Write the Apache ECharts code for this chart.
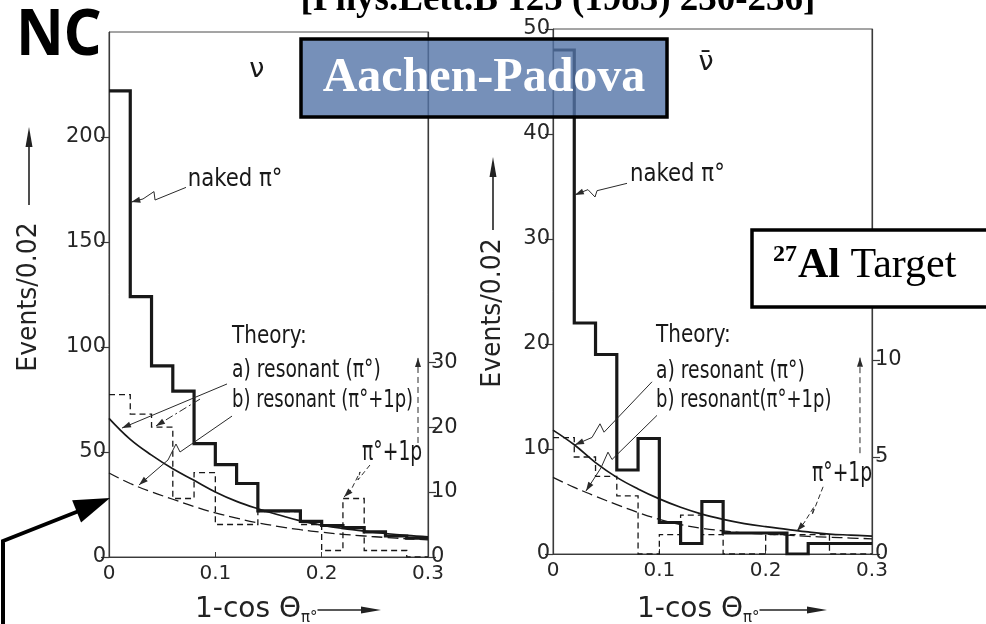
<!DOCTYPE html>
<html>
<head>
<meta charset="utf-8">
<script src="https://cdn.jsdelivr.net/npm/echarts@6/dist/echarts.min.js"></script>
<style>
  html, body { margin: 0; padding: 0; background: #fff; }
  #chart { width: 986px; height: 624px; }
</style>
</head>
<body>
<div id="chart"></div>
<script>
// 1 - cos(theta_pi0) bin edges, 0.02 wide
const binEdges = [0, 0.02, 0.04, 0.06, 0.08, 0.10, 0.12, 0.14, 0.16, 0.18, 0.20, 0.22, 0.24, 0.26, 0.28, 0.30];

// neutrino beam: events per bin
const nuNaked = [222, 124, 91, 79, 54, 44, 35, 22, 22, 17, 15, 14, 12, 10, 9];
const nuPi0p  = [25, 22, 20, 9, 13, 5, 5, 7, 7, 5, 1, 9, 1, 1, 0];

// antineutrino beam: events per bin
const nubarNaked = [48, 22, 19, 8, 11, 3, 1, 5, 2, 2, 2, 0, 1, 1, 1];
const nubarPi0p  = [6, 5, 4, 3, 0, 1, 2, 1, 0, 0, 1, 1, 1, 0, 0];

// theory curves sampled on the same grid
const theoryX = [0, 0.02, 0.04, 0.06, 0.08, 0.10, 0.12, 0.14, 0.16, 0.18, 0.20, 0.22, 0.24, 0.26, 0.28, 0.30];
const nuTheoryA = [66, 56, 48.5, 42, 36.5, 31, 26.5, 23, 20, 17.2, 15.2, 13.6, 12.3, 11.2, 10.3, 9.6];
const nuTheoryB = [40, 35, 31, 27.5, 24, 21, 18.5, 16.3, 14.5, 13, 11.8, 10.8, 10, 9.3, 8.7, 8.2];
const nubarTheoryA = [11.8, 10.4, 8.7, 7.3, 6.2, 5.25, 4.45, 3.8, 3.3, 2.9, 2.6, 2.35, 2.1, 1.9, 1.8, 1.7];
const nubarTheoryB = [7.3, 6.35, 5.5, 4.7, 3.95, 3.3, 2.8, 2.45, 2.2, 2.0, 1.9, 1.8, 1.68, 1.6, 1.52, 1.45];

// tick labels
const nuLeftTicks = [0, 50, 100, 150, 200];
const nuRightTicks = [0, 10, 20, 30];
const nubarLeftTicks = [0, 10, 20, 30, 40, 50];
const nubarRightTicks = [0, 5, 10];

const SANS = '"DejaVu Sans", sans-serif';
const SERIF = '"Liberation Serif", "Times New Roman", serif';
const INK = '#181818';
const AXIS = '#3a3a3a';
const TICKTEXT = '#262626';

const chart = echarts.init(document.getElementById('chart'));

function stepLine(values) {
  return binEdges.map((e, i) => [e, values[Math.min(i, values.length - 1)]]);
}
function curve(values) {
  return theoryX.map((x, i) => [x, values[i]]);
}
function xAxisFor(grid) {
  return {
    type: 'value', gridIndex: grid, min: 0, max: 0.3, interval: 0.1,
    axisLine: { onZero: false, lineStyle: { color: AXIS, width: 1.2 } },
    axisTick: { inside: true, length: 5, lineStyle: { color: AXIS } },
    axisLabel: { color: TICKTEXT, fontFamily: SANS, fontSize: 20, margin: 7 },
    splitLine: { show: false }
  };
}
function yAxisFor(grid, side, max, ticks) {
  return {
    type: 'value', gridIndex: grid, position: side, min: 0, max: max,
    axisLine: { show: true, onZero: false, lineStyle: { color: AXIS, width: 1.2 } },
    axisTick: { show: true, customValues: ticks, length: 8, lineStyle: { color: AXIS, width: 1.2 } },
    axisLabel: { customValues: ticks, margin: 3, color: TICKTEXT, fontFamily: SANS, fontSize: 21 },
    splitLine: { show: false }
  };
}
function histo(grid, yIdx, values, width, dash, z) {
  return {
    type: 'line', xAxisIndex: grid, yAxisIndex: yIdx, data: stepLine(values), step: 'end',
    symbol: 'none', z: z,
    lineStyle: { color: INK, width: width, type: dash || 'solid', cap: 'butt', join: 'miter' }
  };
}
function theory(grid, yIdx, values, width, dash) {
  return {
    type: 'line', xAxisIndex: grid, yAxisIndex: yIdx, data: curve(values), smooth: 0.4,
    symbol: 'none', z: 3,
    lineStyle: { color: INK, width: width, type: dash || 'solid' }
  };
}

chart.setOption({
  animation: false,
  backgroundColor: '#fff',
  grid: [
    { left: 109, top: 32, width: 319, height: 525, show: true, borderColor: '#4a4a4a', borderWidth: 1 },
    { left: 553, top: 29, width: 319, height: 525, show: true, borderColor: '#4a4a4a', borderWidth: 1 }
  ],
  xAxis: [xAxisFor(0), xAxisFor(1)],
  yAxis: [
    yAxisFor(0, 'left', 250, nuLeftTicks),
    yAxisFor(0, 'right', 80.8, nuRightTicks),
    yAxisFor(1, 'left', 50, nubarLeftTicks),
    yAxisFor(1, 'right', 27.06, nubarRightTicks)
  ],
  series: [
    histo(0, 1, nuPi0p, 1.3, [6, 4], 2),
    theory(0, 0, nuTheoryB, 1.3, [11, 5]),
    theory(0, 0, nuTheoryA, 1.7),
    histo(0, 0, nuNaked, 3.2, null, 4),
    histo(1, 3, nubarPi0p, 1.3, [6, 4], 2),
    theory(1, 2, nubarTheoryB, 1.3, [11, 5]),
    theory(1, 2, nubarTheoryA, 1.7),
    histo(1, 2, nubarNaked, 3.2, null, 4)
  ]
});

// ---- annotations, placed in data coordinates of each panel ----
const g = [];
const measure = document.createElement('canvas').getContext('2d');
function textWidth(font, s) { measure.font = font; return measure.measureText(s).width; }
const P = (panel, x, y, axis) =>
  chart.convertToPixel({ xAxisIndex: panel, yAxisIndex: panel * 2 + (axis || 0) }, [x, y]);

function note(pt, text, size, sx, align) {
  g.push({
    type: 'text', x: pt[0], y: pt[1], scaleX: sx, z: 50,
    style: { text: text, fontFamily: SANS, fontSize: size, fill: INK, align: align || 'left', verticalAlign: 'middle' }
  });
}
function head(tip, from, len, half, color) {
  const dx = tip[0] - from[0], dy = tip[1] - from[1];
  const d = Math.hypot(dx, dy) || 1;
  const ux = dx / d, uy = dy / d;
  const bx = tip[0] - ux * len, by = tip[1] - uy * len;
  g.push({
    type: 'polygon', z: 50,
    shape: { points: [tip, [bx - uy * half, by + ux * half], [bx + uy * half, by - ux * half]] },
    style: { fill: color }
  });
}
function leader(panel, pts, dash, axis) {
  const px = pts.map(p => P(panel, p[0], p[1], axis));
  g.push({
    type: 'polyline', z: 50, shape: { points: px },
    style: { stroke: '#2a2a2a', lineWidth: 1, lineDash: dash || null }
  });
  head(px[px.length - 1], px[px.length - 2], 9, 3, '#2a2a2a');
}

// neutrino panel
note(P(0, 0.139, 232), 'ν', 27, 1, 'center');
note(P(0, 0.074, 180), 'naked π°', 25, 0.85);
leader(0, [[0.0724, 176], [0.0433, 170], [0.0423, 174], [0.032, 170.5], [0.021, 169]]);
note(P(0, 0.1157, 105), 'Theory:', 25, 0.8);
note(P(0, 0.1157, 88.6), 'a) resonant (π°)', 25, 0.75);
note(P(0, 0.1157, 74.3), 'b) resonant (π°+1p)', 25, 0.72);
leader(0, [[0.111, 82.4], [0.0122, 61.4]]);
leader(0, [[0.0856, 75.2], [0.0442, 62.4]], [8, 3, 2, 3]);
leader(0, [[0.1157, 67.1], [0.0668, 50], [0.063, 53.8], [0.0555, 46.2], [0.0282, 34.3]]);
note(P(0, 0.238, 49.5), 'π°+1p', 26, 0.72);
leader(0, [[0.2454, 43.8], [0.2341, 36.7], [0.2361, 40.5], [0.2276, 31.9], [0.221, 28.6]], [5, 3]);
leader(0, [[0.2906, 54.3], [0.2906, 94.8]], [6, 4]);

// antineutrino panel
note(P(1, 0.1439, 46.8), 'ν̄', 27, 1, 'center');
note(P(1, 0.0724, 36.1), 'naked π°', 25, 0.85);
leader(1, [[0.0696, 35.3], [0.0414, 34.6], [0.0395, 34], [0.0329, 34.7], [0.0205, 34.2]]);
note(P(1, 0.0969, 20.8), 'Theory:', 25, 0.8);
note(P(1, 0.0969, 17.4), 'a) resonant (π°)', 25, 0.75);
note(P(1, 0.0969, 14.6), 'b) resonant(π°+1p)', 25, 0.72);
leader(1, [[0.0931, 16.4], [0.048, 11.6], [0.0442, 12.4], [0.0367, 11.1], [0.0207, 10.4]]);
leader(1, [[0.0978, 13.2], [0.0555, 9], [0.0517, 9.7], [0.0451, 8.2], [0.031, 6.0]]);
note(P(1, 0.2436, 7.6), 'π°+1p', 26, 0.72);
leader(1, [[0.254, 6.4], [0.2436, 3.7], [0.2455, 4.5], [0.236, 2.95], [0.2294, 2.2]], [5, 3]);
leader(1, [[0.2887, 9.6], [0.2887, 18.7]], [6, 4]);

// axis titles with their arrows
function yTitle(cx, cy, lineFrom, lineTo) {
  g.push({
    type: 'text', x: cx, y: cy, rotation: Math.PI / 2, scaleX: 0.93, z: 50,
    style: { text: 'Events/0.02', fontFamily: SANS, fontSize: 27, fill: '#222', align: 'center', verticalAlign: 'middle' }
  });
  g.push({ type: 'line', z: 50, shape: { x1: cx, y1: lineFrom, x2: cx, y2: lineTo + 10 }, style: { stroke: '#222', lineWidth: 1.6 } });
  head([cx, lineTo], [cx, lineFrom], 20, 3.5, '#222');
}
yTitle(29, 297, 205, 127);
yTitle(493, 313, 230, 157);

function xTitle(left, cy, arrowEnd) {
  const mainFont = '28px ' + SANS;
  const w = textWidth(mainFont, '1-cos Θ');
  g.push({ type: 'text', x: left, y: cy, z: 50,
    style: { text: '1-cos Θ', fontFamily: SANS, fontSize: 28, fill: '#222', align: 'left', verticalAlign: 'middle' } });
  const subX = left + w;
  const sw = textWidth('15px ' + SANS, 'π°');
  g.push({ type: 'text', x: subX, y: cy + 8, z: 50,
    style: { text: 'π°', fontFamily: SANS, fontSize: 15, fill: '#222', align: 'left', verticalAlign: 'middle' } });
  g.push({ type: 'line', z: 50, shape: { x1: subX + sw, y1: cy, x2: arrowEnd - 12, y2: cy }, style: { stroke: '#222', lineWidth: 1.6 } });
  head([arrowEnd, cy], [subX, cy], 20, 3.5, '#222');
}
xTitle(195, 610, 381);
xTitle(637, 610, 827);

// headline and labels
g.push({ type: 'text', x: 16, y: 37, scaleX: 0.92, z: 60,
  style: { text: 'NC', fontFamily: '"Noto Sans", sans-serif', fontWeight: 'bold', fontSize: 64, fill: '#000', align: 'left', verticalAlign: 'middle' } });
g.push({ type: 'text', x: 558, y: 0, z: 60,
  style: { text: '[Phys.Lett.B 125 (1983) 230-236]', fontFamily: SERIF, fontWeight: 'bold', fontSize: 37, fill: '#000', align: 'center', verticalAlign: 'middle' } });

// collaboration box
g.push({ type: 'rect', z: 60, shape: { x: 301, y: 39, width: 366, height: 78 },
  style: { fill: 'rgba(84,116,168,0.8)', stroke: '#000', lineWidth: 3.5 } });
g.push({ type: 'text', x: 484, y: 78.5, z: 61,
  style: { text: 'Aachen-Padova', fontFamily: SERIF, fontWeight: 'bold', fontSize: 48, fill: '#fff', align: 'center', verticalAlign: 'middle' } });

// target box
g.push({ type: 'rect', z: 60, shape: { x: 752, y: 230, width: 260, height: 77 },
  style: { fill: '#fff', stroke: '#000', lineWidth: 3.5 } });
(function () {
  const base = 280;
  let x = 773;
  const supW = textWidth('bold 24px ' + SERIF, '27');
  g.push({ type: 'text', x: x, y: base - 17 - 0.3375 * 24, z: 61,
    style: { text: '27', fontFamily: SERIF, fontWeight: 'bold', fontSize: 24, fill: '#000', align: 'left', verticalAlign: 'middle' } });
  x += supW + 1;
  const alW = textWidth('bold 42px ' + SERIF, 'Al ');
  g.push({ type: 'text', x: x, y: base - 0.3375 * 42, z: 61,
    style: { text: 'Al', fontFamily: SERIF, fontWeight: 'bold', fontSize: 42, fill: '#000', align: 'left', verticalAlign: 'middle' } });
  x += alW;
  g.push({ type: 'text', x: x, y: base - 0.3375 * 42, z: 61,
    style: { text: 'Target', fontFamily: SERIF, fontSize: 42, fill: '#000', align: 'left', verticalAlign: 'middle' } });
})();

// pointer arrow at the lower left
g.push({ type: 'polyline', z: 60, shape: { points: [[3, 630], [3, 541], [84, 509]] },
  style: { stroke: '#000', lineWidth: 4 } });
head([110, 498], [3, 541], 36, 12, '#000');

chart.setOption({ graphic: { elements: g } });
</script>
</body>
</html>
